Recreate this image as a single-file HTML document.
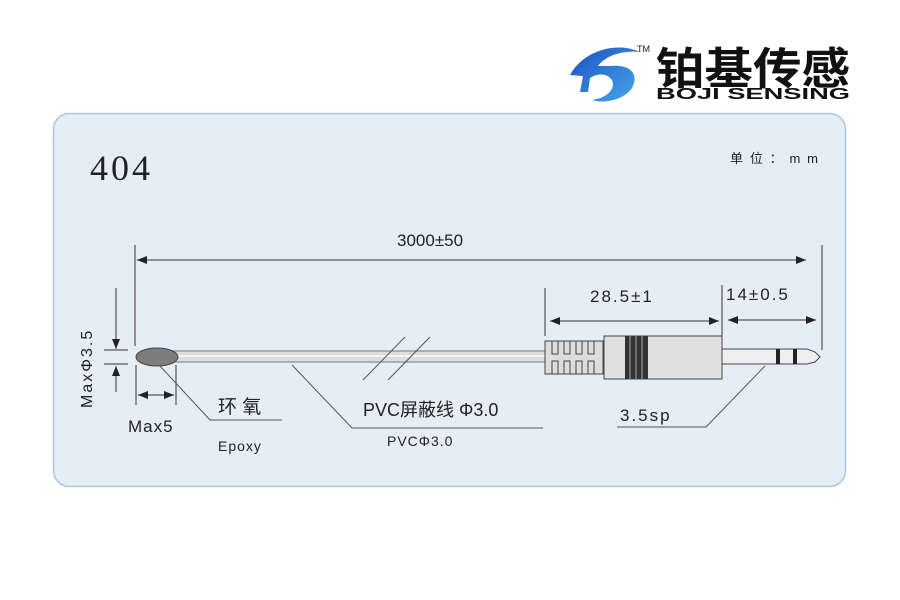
<!DOCTYPE html>
<html><head><meta charset="utf-8"><style>
body{margin:0;background:#fff;width:900px;height:600px;overflow:hidden}
svg{display:block}
text{font-family:"Liberation Sans","Noto Sans CJK SC",sans-serif;fill:#222}
</style></head><body>
<svg width="900" height="600" viewBox="0 0 900 600">
<defs>
<marker id="a" markerWidth="10" markerHeight="8" refX="10" refY="4" orient="auto"><path d="M0,0L10,4L0,8z" fill="#222"/></marker>
<marker id="b" markerWidth="10" markerHeight="8" refX="0" refY="4" orient="auto"><path d="M10,0L0,4L10,8z" fill="#222"/></marker>
<linearGradient id="lg" x1="0" y1="0" x2="1" y2="1"><stop offset="0" stop-color="#1a4fc0"/><stop offset="1" stop-color="#49a8ee"/></linearGradient>
</defs>
<!-- logo -->
<path d="M570,75 C585,48 620,42 640,52 C622,50 605,56 598,66 L610,66 C628,64 640,72 632,88 C624,100 604,104 592,100 C606,98 616,90 612,80 C606,72 596,74 590,78 L588,92 L580,92 L583,76 Z" fill="url(#lg)"/>
<text x="637" y="52" font-size="9">TM</text>
<text x="656" y="84" font-size="44" font-weight="bold" style="fill:#111" textLength="194" lengthAdjust="spacingAndGlyphs">铂基传感</text>
<text x="656" y="99" font-size="16" font-weight="bold" style="fill:#111" textLength="194" lengthAdjust="spacingAndGlyphs">BOJI SENSING</text>
<!-- panel -->
<rect x="53.5" y="113.5" width="792" height="373" rx="16" fill="#e5eef6" stroke="#a9c8df" stroke-width="1.5"/>
<text x="90" y="180" font-size="36" style="font-family:'Liberation Serif',serif;letter-spacing:3px">404</text>
<text x="730" y="163" font-size="13" textLength="88">单位：mm</text>
<g stroke="#333" stroke-width="1" fill="none">
<line x1="135" y1="245" x2="135" y2="346"/>
<line x1="822" y1="245" x2="822" y2="350"/>
<line x1="137" y1="260" x2="806" y2="260" marker-start="url(#b)" marker-end="url(#a)"/>
<line x1="545" y1="288" x2="545" y2="336"/>
<line x1="722" y1="285" x2="722" y2="336"/>
<line x1="550" y1="321" x2="719" y2="321" marker-start="url(#b)" marker-end="url(#a)"/>
<line x1="728" y1="320" x2="816" y2="320" marker-start="url(#b)" marker-end="url(#a)"/>
<line x1="116" y1="288" x2="116" y2="349" marker-end="url(#a)"/>
<line x1="116" y1="392" x2="116" y2="366" marker-end="url(#a)"/>
<line x1="104" y1="350" x2="128" y2="350"/>
<line x1="104" y1="364" x2="128" y2="364"/>
<line x1="136" y1="365" x2="136" y2="405"/>
<line x1="176" y1="365" x2="176" y2="405"/>
<line x1="138" y1="395" x2="174" y2="395" marker-start="url(#b)" marker-end="url(#a)"/>
<polyline points="160,366 210,420 282,420" stroke="#555"/>
<polyline points="292,365 352,428 543,428" stroke="#555"/>
<polyline points="765,366 706,427 617,427" stroke="#555"/>
</g>
<!-- cable -->
<rect x="172" y="351" width="374" height="11" fill="#ddd" stroke="#777"/>
<line x1="172" y1="356" x2="546" y2="356" stroke="#f4f4f4" stroke-width="2"/>
<line x1="363" y1="380" x2="405" y2="337" stroke="#555"/>
<line x1="388" y1="380" x2="430" y2="337" stroke="#555"/>
<ellipse cx="157" cy="357" rx="21" ry="9" fill="#7d7d7d" stroke="#444"/>
<!-- connector -->
<path d="M545,341 h58 v33 h-58 z" fill="#ddd" stroke="#444"/>
<g stroke="#444" fill="none">
<path d="M552,341 v13 h6 v-13 M564,341 v13 h6 v-13 M576,341 v13 h6 v-13 M588,341 v13 h6 v-13"/>
<path d="M552,374 v-13 h6 v13 M564,374 v-13 h6 v13 M576,374 v-13 h6 v13 M588,374 v-13 h6 v13"/>
</g>
<rect x="604" y="336" width="118" height="43" fill="#e0e0e0" stroke="#444"/>
<rect x="625" y="336" width="23" height="43" fill="#333"/>
<line x1="630" y1="336" x2="630" y2="379" stroke="#aaa"/>
<line x1="636" y1="336" x2="636" y2="379" stroke="#aaa"/>
<line x1="642" y1="336" x2="642" y2="379" stroke="#aaa"/>
<path d="M722,349 h85 l8,3 l5,5 l-5,5 l-8,2 h-85 z" fill="#eee" stroke="#444"/>
<rect x="776" y="349" width="4" height="15" fill="#222"/>
<rect x="793" y="349" width="4" height="15" fill="#222"/>
<!-- labels -->
<text x="397" y="246" font-size="17">3000±50</text>
<text x="590" y="302" font-size="17" style="letter-spacing:2px">28.5±1</text>
<text x="726" y="300" font-size="17" style="letter-spacing:2px">14±0.5</text>
<text x="620" y="421" font-size="17" style="letter-spacing:2px">3.5sp</text>
<text x="218" y="413" font-size="19">环 氧</text>
<text x="218" y="451" font-size="14" style="letter-spacing:1px">Epoxy</text>
<text x="128" y="432" font-size="17" style="letter-spacing:1px">Max5</text>
<text x="363" y="416" font-size="18">PVC屏蔽线 Φ3.0</text>
<text x="387" y="446" font-size="14" style="letter-spacing:1px">PVCΦ3.0</text>
<text transform="translate(92,408) rotate(-90)" font-size="16" style="letter-spacing:2px">MaxΦ3.5</text>
</svg>
</body></html>
